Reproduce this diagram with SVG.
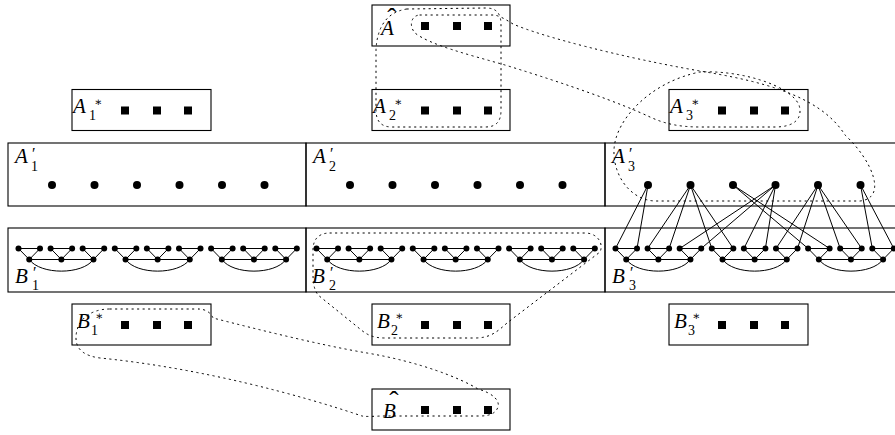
<svg xmlns="http://www.w3.org/2000/svg" width="895" height="435" viewBox="0 0 895 435">
<style>
.box{fill:none;stroke:#000;stroke-width:1.1}
.dot{fill:#000}
.sq{fill:#000}
.e{fill:none;stroke:#000;stroke-width:1}
.dash{fill:none;stroke:#000;stroke-width:1;stroke-dasharray:1.3 4.2;stroke-linecap:round}
.it{font-family:"Liberation Serif","DejaVu Serif",serif;font-style:italic;font-size:21px;fill:#000}
.sb{font-family:"Liberation Serif","DejaVu Serif",serif;font-style:normal;font-size:14px}
.st{font-family:"DejaVu Serif","Liberation Serif",serif;font-style:normal;font-size:12px}
.pr{font-family:"Liberation Serif","DejaVu Serif",serif;font-style:normal;font-size:16px}
.hat{font-family:"Liberation Serif","DejaVu Serif",serif;font-size:28px;fill:#000}
</style>
<defs>
<g id="gad">
<path class="e" d="M0,0 H21.5 L10.75,11 Z M32.1,0 H53.6 L42.85,11 Z M64.2,0 H85.7 L74.95,11 Z M10.75,11 H74.95 M10.75,11 C22,26.5 63.7,26.5 74.95,11"/>
<circle class="dot" cx="0" cy="0" r="3"/><circle class="dot" cx="21.5" cy="0" r="3"/><circle class="dot" cx="10.75" cy="11" r="3"/>
<circle class="dot" cx="32.1" cy="0" r="3"/><circle class="dot" cx="53.6" cy="0" r="3"/><circle class="dot" cx="42.85" cy="11" r="3"/>
<circle class="dot" cx="64.2" cy="0" r="3"/><circle class="dot" cx="85.7" cy="0" r="3"/><circle class="dot" cx="74.95" cy="11" r="3"/>
</g>
<g id="sqs">
<rect class="sq" x="49" y="17" width="8" height="8"/>
<rect class="sq" x="81" y="17" width="8" height="8"/>
<rect class="sq" x="112" y="17" width="8" height="8"/>
</g>
</defs>

<g id="connectors">
<g class="e">
<line x1="648" y1="185" x2="615.5" y2="248.5"/><line x1="648" y1="185" x2="637" y2="248.5"/>
<line x1="690.5" y1="185" x2="647.6" y2="248.5"/><line x1="690.5" y1="185" x2="669.1" y2="248.5"/><line x1="690.5" y1="185" x2="711.8" y2="248.5"/><line x1="690.5" y1="185" x2="733.3" y2="248.5"/>
<line x1="733" y1="185" x2="808.1" y2="248.5"/><line x1="733" y1="185" x2="829.6" y2="248.5"/>
<line x1="775.5" y1="185" x2="679.7" y2="248.5"/><line x1="775.5" y1="185" x2="701.2" y2="248.5"/><line x1="775.5" y1="185" x2="743.9" y2="248.5"/><line x1="775.5" y1="185" x2="765.4" y2="248.5"/>
<line x1="818" y1="185" x2="776" y2="248.5"/><line x1="818" y1="185" x2="797.5" y2="248.5"/><line x1="818" y1="185" x2="840.2" y2="248.5"/><line x1="818" y1="185" x2="861.7" y2="248.5"/>
<line x1="860.5" y1="185" x2="872.3" y2="248.5"/><line x1="860.5" y1="185" x2="893.8" y2="248.5"/>
</g>
<path class="dash" d="M420,15 L494,15 C500,16 505,19 513,24 C540,36 620,57 700,71 C760,81 820,95 845,135 C872,160 888,198 860,201 L655,201 C630,200 613,175 614,150 C615,120 650,82 700,72 C740,70 790,85 799,105 C803,118 795,127 775,127 L700,127 C680,127 665,124 650,117 C620,103 570,85 505,65 C470,55 430,45 415,33 C408,25 412,15 420,15 Z"/>
<path class="dash" d="M407,9 L486,8 C497,8 501,14 501,25 L501,110 C501,122 496,127 485,127 L392,127 C381,127 376,121 376,110 L376,50 C377,28 386,12 407,9 Z"/>
<path class="dash" d="M330,233 L585,233 C597,233 604,243 600,252 L507,323 C497,332 490,338 475,338 L385,338 C372,338 366,334 360,329 L318,295 C313,288 313,280 313,270 L313,250 C313,238 320,233 330,233 Z"/>
<path class="dash" d="M110,309 L198,309 C206,309 211,313 213,318 C260,330 320,345 367,353 C420,362 460,378 478,389 C492,393 500,400 498,407 C496,413 490,416 480,416 L385,416 C375,416 368,417 362,416 C300,395 200,368 100,358 C85,356 76,350 76,338 C76,322 88,309 110,309 Z"/>
</g>

<g id="Ahat">
<rect class="box" x="372" y="5" width="138" height="41"/>
<use href="#sqs" x="372" y="5"/>
<text class="it" x="381" y="35">A</text>
<text class="hat" x="392" y="27" text-anchor="middle">ˆ</text>
</g>
<g id="A1star">
<rect class="box" x="72" y="89.5" width="139" height="41"/>
<use href="#sqs" x="72" y="89.5"/>
<text class="it" x="73" y="113">A<tspan class="st" x="94" y="106">∗</tspan><tspan class="sb" x="89" y="120">1</tspan></text>
</g>
<g id="A2star">
<rect class="box" x="372" y="89.5" width="138" height="41"/>
<use href="#sqs" x="372" y="89.5"/>
<text class="it" x="373" y="113">A<tspan class="st" x="394" y="106">∗</tspan><tspan class="sb" x="389" y="120">2</tspan></text>
</g>
<g id="A3star">
<rect class="box" x="669" y="89.5" width="139" height="41"/>
<use href="#sqs" x="669" y="89.5"/>
<text class="it" x="670" y="113">A<tspan class="st" x="691" y="106">∗</tspan><tspan class="sb" x="686" y="120">3</tspan></text>
</g>

<g id="A1p">
<rect class="box" x="8" y="143" width="298" height="63"/>
<text class="it" x="15" y="163">A<tspan class="pr" x="32" y="159">′</tspan><tspan class="sb" x="31" y="171">1</tspan></text>
<circle class="dot" cx="52" cy="185" r="4"/><circle class="dot" cx="94.5" cy="185" r="4"/><circle class="dot" cx="137" cy="185" r="4"/><circle class="dot" cx="179.5" cy="185" r="4"/><circle class="dot" cx="222" cy="185" r="4"/><circle class="dot" cx="264.5" cy="185" r="4"/>
</g>
<g id="A2p">
<rect class="box" x="306" y="143" width="299" height="63"/>
<text class="it" x="313" y="163">A<tspan class="pr" x="330" y="159">′</tspan><tspan class="sb" x="329" y="171">2</tspan></text>
<circle class="dot" cx="350" cy="185" r="4"/><circle class="dot" cx="392.5" cy="185" r="4"/><circle class="dot" cx="435" cy="185" r="4"/><circle class="dot" cx="477.5" cy="185" r="4"/><circle class="dot" cx="520" cy="185" r="4"/><circle class="dot" cx="562.5" cy="185" r="4"/>
</g>
<g id="A3p">
<rect class="box" x="605" y="143" width="300" height="63"/>
<text class="it" x="612" y="163">A<tspan class="pr" x="629" y="159">′</tspan><tspan class="sb" x="628" y="171">3</tspan></text>
<circle class="dot" cx="648" cy="185" r="4"/><circle class="dot" cx="690.5" cy="185" r="4"/><circle class="dot" cx="733" cy="185" r="4"/><circle class="dot" cx="775.5" cy="185" r="4"/><circle class="dot" cx="818" cy="185" r="4"/><circle class="dot" cx="860.5" cy="185" r="4"/>
</g>

<g id="B1p">
<rect class="box" x="8" y="228" width="298" height="64"/>
<use href="#gad" x="18.5" y="248.5"/><use href="#gad" x="114.8" y="248.5"/><use href="#gad" x="211.1" y="248.5"/>
<text class="it" x="15" y="283">B<tspan class="pr" x="33" y="278">′</tspan><tspan class="sb" x="32" y="290">1</tspan></text>
</g>
<g id="B2p">
<rect class="box" x="306" y="228" width="299" height="64"/>
<use href="#gad" x="316.5" y="248.5"/><use href="#gad" x="412.8" y="248.5"/><use href="#gad" x="509.1" y="248.5"/>
<text class="it" x="312" y="283">B<tspan class="pr" x="330" y="278">′</tspan><tspan class="sb" x="329" y="290">2</tspan></text>
</g>
<g id="B3p">
<rect class="box" x="605" y="228" width="300" height="64"/>
<use href="#gad" x="615.5" y="248.5"/><use href="#gad" x="711.8" y="248.5"/><use href="#gad" x="808.1" y="248.5"/>
<text class="it" x="612" y="283">B<tspan class="pr" x="630" y="278">′</tspan><tspan class="sb" x="629" y="290">3</tspan></text>
</g>

<g id="B1star">
<rect class="box" x="72" y="304" width="139" height="41"/>
<use href="#sqs" x="72" y="304"/>
<text class="it" x="77" y="328">B<tspan class="st" x="95" y="320">∗</tspan><tspan class="sb" x="91" y="335">1</tspan></text>
</g>
<g id="B2star">
<rect class="box" x="372" y="304" width="138" height="41"/>
<use href="#sqs" x="372" y="304"/>
<text class="it" x="377" y="328">B<tspan class="st" x="395" y="320">∗</tspan><tspan class="sb" x="391" y="335">2</tspan></text>
</g>
<g id="B3star">
<rect class="box" x="669" y="304" width="139" height="41"/>
<use href="#sqs" x="669" y="304"/>
<text class="it" x="674" y="328">B<tspan class="st" x="692" y="320">∗</tspan><tspan class="sb" x="688" y="335">3</tspan></text>
</g>
<g id="Bhat">
<rect class="box" x="372" y="389" width="138" height="41"/>
<use href="#sqs" x="372" y="389"/>
<text class="it" x="383" y="418">B</text>
<text class="hat" x="394" y="410" text-anchor="middle">ˆ</text>
</g>
</svg>
